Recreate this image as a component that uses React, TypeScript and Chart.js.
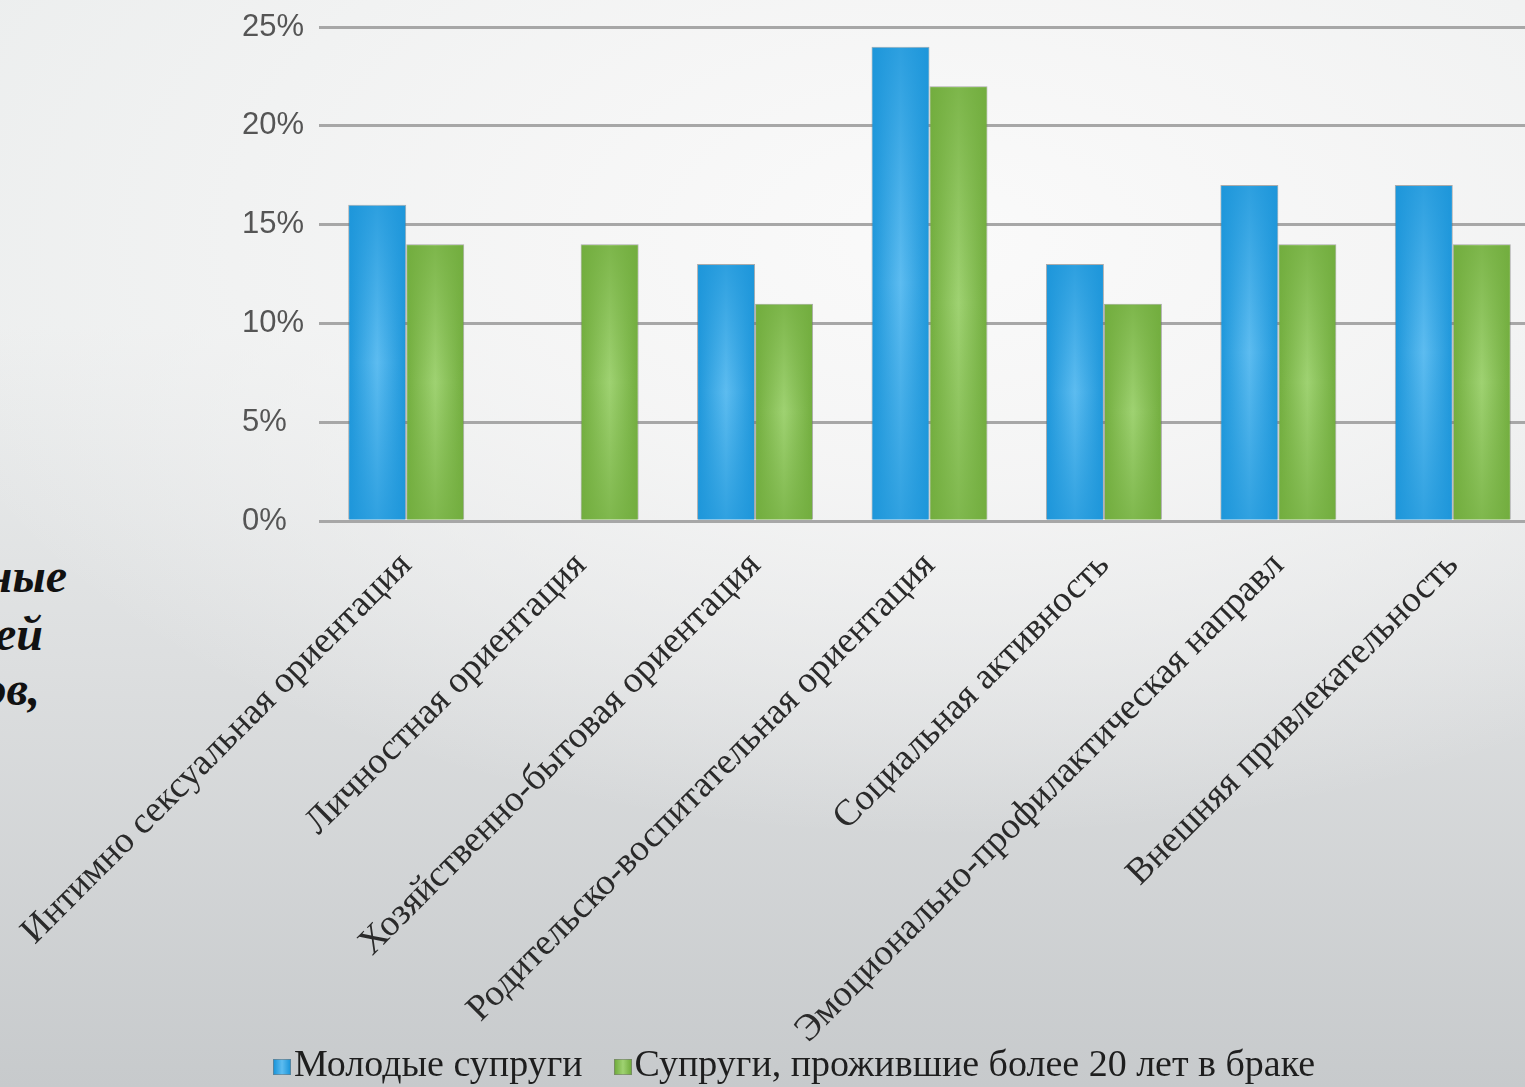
import React, { useEffect, useRef } from 'react';
import { Chart, registerables } from 'chart.js';

Chart.register(...registerables);

const categories = [
  'Интимно сексуальная ориентация',
  'Личностная ориентация',
  'Хозяйственно-бытовая ориентация',
  'Родительско-воспитательная ориентация',
  'Социальная активность',
  'Эмоционально-профилактическая направл',
  'Внешняя привлекательность',
];
const youngSpouses = [16, 0, 13, 24, 13, 17, 17];
const longMarried = [14, 14, 11, 22, 11, 14, 14];
const seriesNames = ['Молодые супруги', 'Супруги, прожившие более 20 лет в браке'];
const yTickValues = [0, 5, 10, 15, 20, 25];
const sideTextLines = ['ные', 'ей', 'ов,'];

const EDGE = ['#1d96da', '#72ad3e'];
const MID = ['#5dbcf0', '#9fd272'];
const EDGE_RGB = ['29,150,218', '114,173,62'];

const SERIF = "'Liberation Serif', 'Times New Roman', serif";
const SANS = "'Liberation Sans', Arial, sans-serif";

const barShading = {
  id: 'barShading',
  beforeDatasetsDraw(chart: any) {
    const ctx = chart.ctx;
    chart.data.datasets.forEach((_ds: any, i: number) => {
      const meta = chart.getDatasetMeta(i);
      meta.data.forEach((el: any) => {
        try {
          const { x, width } = el.getProps(['x', 'width'], true);
          const g = ctx.createLinearGradient(x - width / 2, 0, x + width / 2, 0);
          g.addColorStop(0, EDGE[i]);
          g.addColorStop(0.5, MID[i]);
          g.addColorStop(1, EDGE[i]);
          el.options.backgroundColor = g;
        } catch (e) {
          /* keep flat colour */
        }
      });
    });
  },
  afterDatasetsDraw(chart: any) {
    const ctx = chart.ctx;
    chart.data.datasets.forEach((_ds: any, i: number) => {
      const meta = chart.getDatasetMeta(i);
      meta.data.forEach((el: any) => {
        const { x, y, base, width } = el.getProps(['x', 'y', 'base', 'width'], true);
        const top = Math.min(y, base);
        const h = Math.abs(base - y);
        if (h < 3) return;
        const g = ctx.createLinearGradient(0, top, 0, top + h);
        g.addColorStop(0, `rgba(${EDGE_RGB[i]},0.75)`);
        g.addColorStop(0.5, `rgba(${EDGE_RGB[i]},0)`);
        g.addColorStop(1, `rgba(${EDGE_RGB[i]},0.7)`);
        ctx.save();
        ctx.fillStyle = g;
        ctx.fillRect(x - width / 2 + 1, top + 1, width - 2, h - 1);
        ctx.restore();
      });
    });
  },
};

function BarChart() {
  const ref = useRef<HTMLCanvasElement | null>(null);
  useEffect(() => {
    if (!ref.current) return;
    const chart = new Chart(ref.current, {
      type: 'bar',
      data: {
        labels: categories,
        datasets: [
          {
            label: seriesNames[0],
            data: youngSpouses,
            backgroundColor: () => EDGE[0],
            borderColor: 'rgba(110,110,110,0.55)',
            borderWidth: 1,
            categoryPercentage: 0.665,
            barPercentage: 1,
          },
          {
            label: seriesNames[1],
            data: longMarried,
            backgroundColor: () => EDGE[1],
            borderColor: 'rgba(110,110,110,0.55)',
            borderWidth: 1,
            categoryPercentage: 0.665,
            barPercentage: 1,
          },
        ],
      },
      options: {
        responsive: false,
        animation: false,
        devicePixelRatio: 1,
        layout: { padding: { left: 242, top: 27, right: 20, bottom: 0 } },
        plugins: { legend: { display: false }, tooltip: { enabled: false } },
        scales: {
          x: {
            grid: { display: false },
            border: { display: false },
            ticks: {
              autoSkip: false,
              minRotation: 45,
              maxRotation: 45,
              padding: 15,
              color: '#2a2a2a',
              font: { family: SERIF, size: 37 },
            },
            afterFit: (s: any) => {
              s.height = 1087 - 521;
              s.paddingLeft = 0;
              s.paddingRight = 0;
            },
          },
          y: {
            min: 0,
            max: 25,
            grid: { color: '#a7a7a7', lineWidth: 3, drawTicks: false },
            border: { display: false },
            afterBuildTicks: (s: any) => {
              s.ticks = yTickValues.map((v) => ({ value: v }));
            },
            ticks: {
              crossAlign: 'far',
              color: '#555555',
              font: { family: SANS, size: 31 },
              callback: (v: any) => v + '%',
            },
            afterFit: (s: any) => {
              s.width = 77;
            },
          },
        },
      },
      plugins: [barShading],
    } as any);
    return () => chart.destroy();
  }, []);
  return (
    <canvas
      ref={ref}
      width={1560}
      height={1087}
      style={{ position: 'absolute', left: 0, top: 0, width: 1560, height: 1087 }}
    />
  );
}

function LegendSwatch({ i }: { i: number }) {
  return (
    <span
      style={{
        display: 'inline-block',
        width: 18,
        height: 16,
        marginRight: 3,
        background: `linear-gradient(90deg, ${EDGE[i]}, ${MID[i]}, ${EDGE[i]})`,
        border: '1px solid rgba(120,120,120,0.6)',
        boxSizing: 'border-box',
        verticalAlign: 'baseline',
        position: 'relative',
        top: -1,
      }}
    />
  );
}

export default function App() {
  return (
    <div
      style={{
        position: 'fixed',
        left: 0,
        top: 0,
        width: 1525,
        height: 1087,
        overflow: 'hidden',
        background:
          'radial-gradient(ellipse 70% 55% at 62% 22%, rgba(250,250,250,1) 0%, rgba(246,246,246,0.9) 40%, rgba(240,241,241,0) 100%), linear-gradient(180deg, #eceeee 0%, #eceeee 30%, #dcdedf 62%, #c7cacc 100%)',
      }}
    >
      {sideTextLines.map((t, k) => (
        <div
          key={k}
          style={{
            position: 'absolute',
            right: [1458, 1482, 1485][k],
            top: [552, 610, 665][k],
            fontFamily: SERIF,
            fontWeight: 'bold',
            fontStyle: 'italic',
            fontSize: 48,
            lineHeight: '48px',
            whiteSpace: 'nowrap',
            color: '#111',
          }}
        >
          {t}
        </div>
      ))}
      <BarChart />
      <div
        style={{
          position: 'absolute',
          left: 273,
          top: 1044,
          fontFamily: SERIF,
          fontSize: 38,
          lineHeight: '38px',
          color: '#1e1e1e',
          whiteSpace: 'nowrap',
        }}
      >
        <LegendSwatch i={0} />
        <span>{seriesNames[0]}</span>
        <span style={{ display: 'inline-block', width: 31 }} />
        <LegendSwatch i={1} />
        <span>{seriesNames[1]}</span>
      </div>
    </div>
  );
}
